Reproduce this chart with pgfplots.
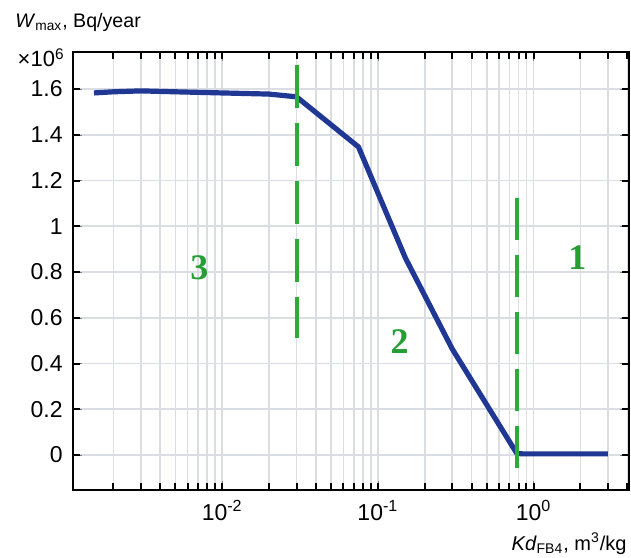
\documentclass[border=0pt]{standalone}
\usepackage{pgfplots}
\pgfplotsset{compat=1.18}
\usepackage{fontspec}
\setmainfont{Liberation Sans}
\newfontfamily\seriffont{Liberation Serif}
\usetikzlibrary{calc}
\definecolor{curveblue}{RGB}{32,56,148}
\definecolor{dashgreen}{RGB}{44,170,58}
\definecolor{numgreen}{RGB}{38,158,52}
\definecolor{gridgray}{RGB}{218,221,226}
\begin{document}
\begin{tikzpicture}
\begin{axis}[
  name=ax,
  scale only axis, width=278pt, height=219pt,
  xmode=log, xmin=0.0011, xmax=4.1, ymin=-0.153, ymax=1.762,
  xtick={0.01,0.1,1},
  minor xtick={0.002,0.003,0.004,0.005,0.006,0.007,0.008,0.009,0.02,0.03,0.04,0.05,0.06,0.07,0.08,0.09,0.2,0.3,0.4,0.5,0.6,0.7,0.8,0.9,2,3,4},
  ytick={0,0.2,0.4,0.6,0.8,1,1.2,1.4,1.6},
  scaled y ticks=false,
  axis line style={line width=1pt, black},
  xticklabels={10\textsuperscript{-2},10\textsuperscript{-1},10\textsuperscript{0}},
  yticklabels={0,0.2,0.4,0.6,0.8,1,1.2,1.4,1.6},
  xmajorgrids, xminorgrids, ymajorgrids,
  grid style={line width=0.8pt, gridgray},
  major grid style={line width=0.8pt, gridgray},
  minor grid style={line width=0.8pt, gridgray},
  xticklabel style={anchor=base, yshift=-15pt, font=\fontsize{11.5}{13}\selectfont},
  yticklabel style={anchor=east, inner sep=0pt, xshift=-5pt, font=\fontsize{11.5}{13}\selectfont},
  clip=false,
]
\addplot[curveblue, line width=2.6pt, line join=round] coordinates {
  (0.0015,1.583) (0.002,1.588) (0.003,1.592) (0.005,1.588) (0.01,1.583)
  (0.02,1.578) (0.03,1.566) (0.075,1.347) (0.15,0.862) (0.3,0.464)
  (0.78,0.007) (0.85,0.005) (3.0,0.005)
};
\addplot[dashgreen, line width=2pt, dash pattern=on 21.5pt off 7.5pt] coordinates {(0.03,1.706) (0.03,0.512)};
\addplot[dashgreen, line width=2pt, dash pattern=on 21pt off 7.5pt] coordinates {(0.78,1.124) (0.78,-0.07)};
\node[numgreen, font=\seriffont\bfseries\fontsize{18}{18}\selectfont] at (axis cs:0.00713,0.818) {3};
\node[numgreen, font=\seriffont\bfseries\fontsize{18}{18}\selectfont] at (axis cs:0.138,0.494) {2};
\node[numgreen, font=\seriffont\bfseries\fontsize{18}{18}\selectfont] at (axis cs:1.91,0.862) {1};
% tick marks of the frame (axis decoration), drawn over the grid
\pgfplotsinvokeforeach{0.002,0.003,0.004,0.005,0.006,0.007,0.008,0.009,0.01,0.02,0.03,0.04,0.05,0.06,0.07,0.08,0.09,0.1,0.2,0.3,0.4,0.5,0.6,0.7,0.8,0.9,1,2,3,4}{
  \draw[black, line width=1pt] (axis cs:#1,-0.153) -- ++(0pt,3.5pt);
  \draw[black, line width=1pt] (axis cs:#1,1.762) -- ++(0pt,-3.5pt);
}
\pgfplotsinvokeforeach{0,0.2,0.4,0.6,0.8,1,1.2,1.4,1.6}{
  \draw[black, line width=1pt] (axis cs:0.0011,#1) -- ++(3.5pt,0pt);
  \draw[black, line width=1pt] (axis cs:4.1,#1) -- ++(-3.5pt,0pt);
}
\end{axis}
\draw[black, line width=1pt] (ax.south west) rectangle (ax.north east);
\node[inner sep=0pt, anchor=base west, font=\fontsize{9.8}{11}\selectfont] at ($(ax.north west)+(-29pt,12pt)$) {\textit{W}\textsubscript{max}, Bq/year};
\node[inner sep=0pt, anchor=base east, font=\fontsize{11}{13}\selectfont] at ($(ax.north west)+(-4pt,-7.5pt)$) {×10\textsuperscript{6}};
\node[inner sep=0pt, anchor=base east, font=\fontsize{10}{11}\selectfont] at ($(ax.south east)+(-1pt,-30pt)$) {\textit{Kd}\textsubscript{FB4}, m\textsuperscript{3}/kg};
\pgfresetboundingbox
\path ($(ax.south west)+(-36.5pt,-33.5pt)$) rectangle ($(ax.north east)+(1pt,26pt)$);
\end{tikzpicture}
\end{document}
